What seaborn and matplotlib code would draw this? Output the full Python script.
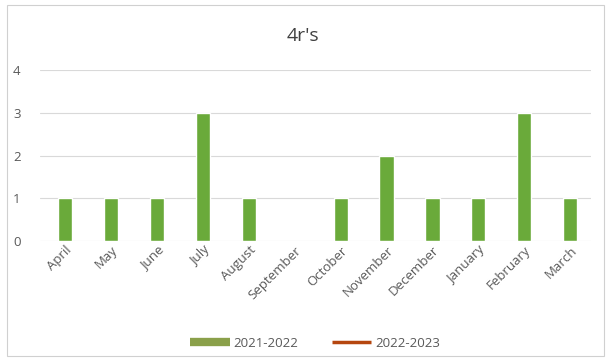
import matplotlib
matplotlib.use("Agg")
import matplotlib.pyplot as plt
import seaborn as sns
import pandas as pd
from matplotlib.lines import Line2D
from matplotlib.patches import Rectangle

months = ["April", "May", "June", "July", "August", "September", "October",
          "November", "December", "January", "February", "March"]
values_2021_2022 = [1, 1, 1, 3, 1, 0, 1, 2, 1, 1, 3, 1]
series_names = ["2021-2022", "2022-2023"]

sns.set_theme(style="white")
plt.rcParams['font.family'] = ['Open Sans', 'DejaVu Sans']

df = pd.DataFrame({"month": months, "value": values_2021_2022})

fig = plt.figure(figsize=(6.06, 3.63), dpi=100)
ax = fig.add_axes([0.066, 0.336, 0.909, 0.471])

green = "#6aaa3a"
sns.barplot(data=df, x="month", y="value", color=green, width=0.31,
            saturation=1, ax=ax, zorder=3)

ax.set_ylim(0, 4)
ax.set_yticks([0, 1, 2, 3, 4])
ax.yaxis.grid(True, color="#d9d9d9", linewidth=0.8, zorder=0)
ax.set_axisbelow(True)
for s in ax.spines.values():
    s.set_visible(False)
ax.set_xlabel("")
ax.set_ylabel("")
ax.tick_params(axis="both", length=0, colors="#595959", labelsize=9.5)
ax.tick_params(axis="y", pad=14)
ax.tick_params(axis="x", pad=2)
plt.setp(ax.get_xticklabels(), rotation=45, ha="right", rotation_mode="anchor")
ax.set_xlim(-0.55, 11.45)

fig.text(0.5, 0.9, "4r's", ha="center", va="center", fontsize=14, color="#404040")

handles = [Line2D([0], [0], color="#8aa04a", linewidth=6, solid_capstyle="butt"),
           Line2D([0], [0], color="#b5460f", linewidth=2.5, solid_capstyle="butt")]
fig.legend(handles, series_names, loc="center", bbox_to_anchor=(0.52, 0.055),
           ncol=2, frameon=False, fontsize=9.5, handlelength=3, handletextpad=0.3,
           columnspacing=2.5, labelcolor="#595959")

fig.patches.append(Rectangle((0.012, 0.02), 0.985, 0.965, transform=fig.transFigure,
                             fill=False, edgecolor="#d0d0d0", linewidth=0.8))

fig.savefig("out.png", dpi=100)
